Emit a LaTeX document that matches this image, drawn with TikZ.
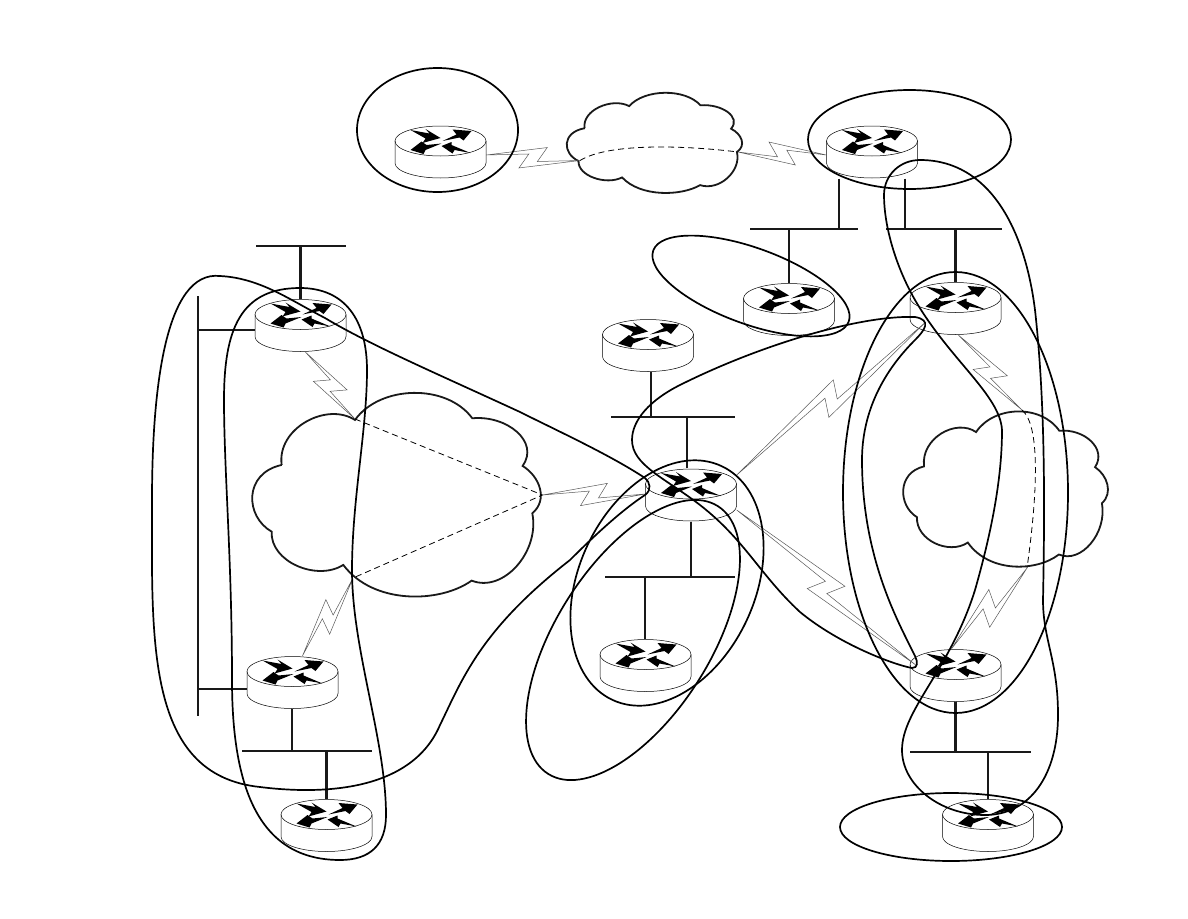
\documentclass[tikz,border=0pt]{standalone}
\usetikzlibrary{calc}

\tikzset{
  routerbox/.style={rectangle, minimum width=91pt, minimum height=53pt, inner sep=0pt},
  blob/.style={black, line width=1.7pt},
  bus/.style={black!90, line width=2.5pt},
  wan/.style={black!65, line width=0.5pt},
  wancloud/.style={black!90, line width=1.8pt},
  pvc/.style={black, line width=0.8pt, dash pattern=on 6pt off 4pt},
  wanshape/.pic={
    \draw[wancloud] (92,218) .. controls (77,108) and (227,28) .. (312,83)
      .. controls (387,-22) and (587,-27) .. (664,78)
      .. controls (767,68) and (867,148) .. (815,221)
      .. controls (867,253) and (892,323) .. (844,363)
      .. controls (867,478) and (757,603) .. (662,565)
      .. controls (567,633) and (367,638) .. (277,518)
      .. controls (197,568) and (57,508) .. (62,418)
      .. controls (-18,373) and (-23,243) .. cycle;
  },
  routertop/.pic={
    \draw[line width=0.5pt] (-45.5,-11) -- (-45.5,11)
      arc[start angle=180, end angle=360, x radius=45.5pt, y radius=15pt] -- (45.5,-11);
    \draw[line width=0.5pt] (0,-11) ellipse [x radius=45.5pt, y radius=15pt];
    % the four arrows on the lid
    \fill (-30,-22) -- (-11,-18.5) -- (-15,-23) -- (0,-14) -- (-18,-9) -- (-15,-13.5) -- cycle;
    \fill (2,-11) -- (16,-17.5) -- (12,-22.5) -- (31,-21) -- (23,-11.5) -- (19,-14.5) -- cycle;
    \fill (1,-8.5) -- (-14,-7) -- (-19,-10.5) -- (-30,-2) -- (-17,2) -- (-15,-2) -- cycle;
    \fill (1,-6) -- (11,-10) -- (11,-7) -- (30,1) -- (14,-2) -- (12,1.5) -- cycle;
  },
}

% closed zigzag between two points, #1 scales it and flips its sense
\newcommand{\wanlink}[3][1]{
  \coordinate (wm) at ($(#2)!.5!(#3)$);
  \draw[wan] (#2) -- ($(wm)!13.5pt!(#3)!#1*11pt!90:(#3)$)
    -- ($(wm)!4.5pt!(#3)!#1*-3.5pt!90:(#3)$) -- (#3)
    -- ($(wm)!-13.5pt!(#3)!#1*-11pt!90:(#3)$)
    -- ($(wm)!-4.5pt!(#3)!#1*3.5pt!90:(#3)$) -- cycle;
}

\begin{document}
\begin{tikzpicture}[x=1pt, y=-1pt]
  \useasboundingbox (0,0) rectangle (1188,918);

  % routers
  \foreach \name/\x/\y in {rA/440.5/152, rB/872/152, rC/789/309.5, rD/955.5/308.5,
      rE/648/345.5, rF/300.5/325.5, rG/691/495, rH/645.5/665.5, rI/955.5/675.5,
      rJ/292.5/682.5, rK/326.5/825.5, rL/988/825.5} {
    \node[routerbox] (\name) at (\x,\y) {};
    \pic at (\name) {routertop};
  }

  % clouds
  \pic[xscale=177/874, yscale=100.5/613] at (566,92.5) {wanshape};
  \pic[xscale=291.3/874, yscale=204.3/613] at (251,392.3) {wanshape};
  \pic[xscale=206.7/874, yscale=155.7/613] at (902.3,411) {wanshape};

  % ports on the clouds
  \coordinate (wanAw) at (580,160.5);
  \coordinate (wanAe) at (738,152);
  \coordinate (wanBn) at (355,419);
  \coordinate (wanBe) at (542.5,495);
  \coordinate (wanBs) at (353,578);
  \coordinate (wanCn) at (1022,410);
  \coordinate (wanCs) at (1027,568);

  % virtual circuits across the clouds
  \draw[pvc] (wanAw) .. controls (610,142) and (690,146) .. (wanAe);
  \draw[pvc] (wanBn) -- (wanBe) -- (wanBs);
  \draw[pvc] (wanCn) .. controls (1040,425) and (1038,490) .. (wanCs);

  % serial links
  \wanlink{[yshift=-3pt]rA.east}{wanAw}
  \wanlink[-1]{wanAe}{[yshift=-3pt]rB.west}
  \wanlink{[xshift=5pt]rF.south}{wanBn}
  \wanlink{[xshift=10pt]rJ.north}{wanBs}
  \wanlink{wanBe}{[yshift=1pt]rG.west}
  \wanlink[1.2]{[yshift=20pt]rG.east}{[xshift=-30pt,yshift=13pt]rD.south}
  \wanlink[1.2]{[yshift=-15pt]rG.east}{[xshift=-40pt,yshift=-16pt]rI.north}
  \wanlink{[xshift=3pt]rD.south}{wanCn}
  \wanlink[1.2]{[xshift=-4pt]rI.north}{wanCs}

  % LAN segments
  \coordinate (lanA1) at (256,246);   \coordinate (lanA2) at (346,246);
  \coordinate (lanB1) at (198,296);   \coordinate (lanB2) at (198,716);
  \coordinate (lanC1) at (242,751);   \coordinate (lanC2) at (372,751);
  \coordinate (lanD1) at (611,417);   \coordinate (lanD2) at (735,417);
  \coordinate (lanE1) at (605,577);   \coordinate (lanE2) at (735,577);
  \coordinate (lanF1) at (750,229);   \coordinate (lanF2) at (858,229);
  \coordinate (lanG1) at (886,229);   \coordinate (lanG2) at (1002,229);
  \coordinate (lanH1) at (910,752);   \coordinate (lanH2) at (1031,752);
  \foreach \seg in {A,B,C,D,E,F,G,H}
    \draw[bus] (lan\seg1) -- (lan\seg2);

  % stubs from routers onto the segments
  \draw[bus] (rF.north) -- (rF.north |- lanA1);
  \draw[bus] (rF.west |- 0,330) -- (lanB1 |- 0,330);
  \draw[bus] (rJ.west |- 0,689) -- (lanB1 |- 0,689);
  \draw[bus] (rJ.south -| 292,0) -- (292,751);
  \draw[bus] (rK.north) -- (rK.north |- lanC1);
  \draw[bus] (rE.south -| 651,0) -- (651,417);
  \draw[bus] (rG.north -| 687,0) -- (687,417);
  \draw[bus] (rG.south) -- (rG.south |- lanE1);
  \draw[bus] (rH.north -| 645,0) -- (645,577);
  \draw[bus] (rB.south -| 839,0) -- (839,229);
  \draw[bus] (rB.south -| 905,0) -- (905,229);
  \draw[bus] (rC.north) -- (rC.north |- lanF1);
  \draw[bus] (rD.north) -- (rD.north |- lanG1);
  \draw[bus] (rI.south) -- (rI.south |- lanH1);
  \draw[bus] (rL.north) -- (rL.north |- lanH1);

  % groupings
  \draw[blob] (437.5,130) ellipse [x radius=80.5, y radius=62];
  \draw[blob] (909.5,139.5) ellipse [x radius=101.5, y radius=49.5];
  \draw[blob] (951,827) ellipse [x radius=111, y radius=34];
  \draw[blob] (955.5,492.5) ellipse [x radius=112.5, y radius=220.5];
  \draw[blob, rotate around={-20:(751,286)}] (751,286) ellipse [x radius=104, y radius=38];
  \draw[blob, rotate around={65:(667,583)}] (667,583) ellipse [x radius=129, y radius=88];
  \draw[blob, rotate around={57.6:(633,640)}] (633,640) ellipse [x radius=158.5, y radius=77];

  \draw[blob] (300,288) .. controls (345,288) and (367,320) .. (367,370)
    .. controls (367,430) and (352,500) .. (352,570)
    .. controls (352,650) and (386,740) .. (386,815)
    .. controls (386,845) and (370,860) .. (340,860)
    .. controls (260,860) and (232,790) .. (232,680)
    .. controls (232,560) and (224,470) .. (224,400)
    .. controls (224,330) and (240,288) .. cycle;
  \draw[blob] (220,276) .. controls (165,270) and (152,390) .. (152,500)
    .. controls (152,640) and (145,775) .. (260,787)
    .. controls (300,792) and (408,800) .. (440,725)
    .. controls (462,680) and (480,630) .. (570,560)
    .. controls (600,530) and (625,508) .. (645,495)
    .. controls (652,490) and (650,482) .. (645,478)
    .. controls (610,455) and (560,432) .. (520,412)
    .. controls (440,375) and (370,345) .. (325,318)
    .. controls (290,300) and (260,278) .. cycle;
  \draw[blob] (915,317) .. controls (860,315) and (760,345) .. (680,385)
    .. controls (650,400) and (632,420) .. (632,440)
    .. controls (632,465) and (665,478) .. (700,505)
    .. controls (745,540) and (760,575) .. (800,612)
    .. controls (840,645) and (895,665) .. (912,668)
    .. controls (918,668) and (918,662) .. (915,656)
    .. controls (900,625) and (862,560) .. (862,460)
    .. controls (862,400) and (895,360) .. (915,340)
    .. controls (925,330) and (932,320) .. cycle;
  \draw[blob] (920,160) .. controls (990,160) and (1025,230) .. (1035,310)
    .. controls (1045,400) and (1045,500) .. (1043,600)
    .. controls (1043,640) and (1058,660) .. (1058,715)
    .. controls (1058,775) and (1030,815) .. (985,815)
    .. controls (940,815) and (902,785) .. (902,750)
    .. controls (902,710) and (950,670) .. (975,590)
    .. controls (995,520) and (1002,470) .. (1002,430)
    .. controls (1000,395) and (950,360) .. (915,300)
    .. controls (895,265) and (884,225) .. (884,195)
    .. controls (884,175) and (900,160) .. cycle;
\end{tikzpicture}
\end{document}
